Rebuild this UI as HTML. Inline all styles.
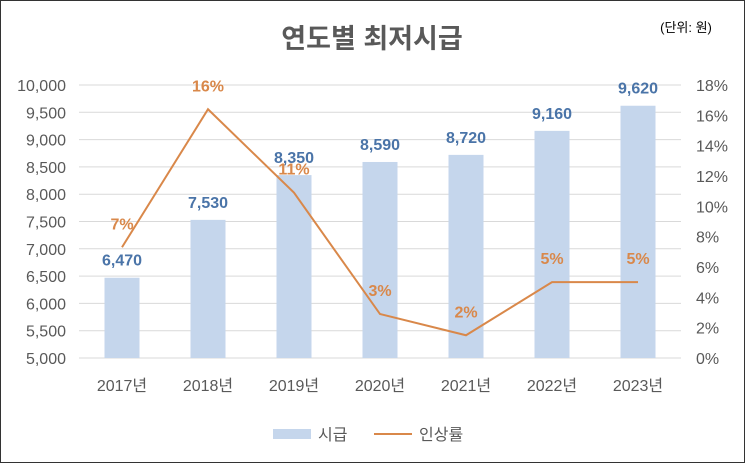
<!DOCTYPE html>
<html><head><meta charset="utf-8"><style>
body{margin:0;background:#fff;}
svg{display:block;font-family:"Liberation Sans","Noto Sans CJK KR",sans-serif;}
</style></head><body>
<svg width="745" height="463" id="chart">
<rect x="0.5" y="0.5" width="744" height="462" fill="#fff" stroke="#333"/>
<text x="372" y="48" text-anchor="middle" font-size="27" font-weight="bold" fill="#595959">연도별 최저시급</text>
<text x="686" y="32" text-anchor="middle" font-size="13" fill="#000">(단위: 원)</text>
<g id="grid"></g><g id="bars"></g><g id="line"></g><g id="labels"></g><g id="axes"></g>
<g>
<rect x="273" y="429" width="38" height="10" fill="#c5d6ec"/>
<text x="318" y="440" font-size="16" fill="#595959">시급</text>
<line x1="374" y1="434" x2="412" y2="434" stroke="#d9884a" stroke-width="2"/>
<text x="419" y="440" font-size="16" fill="#595959">인상률</text>
</g>
</svg>
<script>
const categories=["2017년","2018년","2019년","2020년","2021년","2022년","2023년"];
const wages=[6470,7530,8350,8590,8720,9160,9620];
const rates=[7.3,16.4,10.9,2.9,1.5,5.0,5.0];
const rateLabels=["7%","16%","11%","3%","2%","5%","5%"];
const leftTicks=[5000,5500,6000,6500,7000,7500,8000,8500,9000,9500,10000];
const rightTicks=[0,2,4,6,8,10,12,14,16,18];
const NS="http://www.w3.org/2000/svg";
const X0=79,X1=681,Y0=358,Y1=85;
const band=(X1-X0)/categories.length;
const xc=i=>X0+band*(i+0.5);
const yl=v=>Y0-(v-5000)/5000*(Y0-Y1);
const yr=v=>Y0-v/18*(Y0-Y1);
function mk(tag,attrs,parent,txt){const e=document.createElementNS(NS,tag);for(const k in attrs)e.setAttribute(k,attrs[k]);if(txt!==undefined)e.textContent=txt;document.getElementById(parent).appendChild(e);return e;}
leftTicks.forEach(t=>{
 const g=mk("line",{x1:X0,x2:X1,y1:yl(t),y2:yl(t),stroke:"#d9d9d9","stroke-width":1},"grid");
 
 
 const l=mk("text",{x:66,y:yl(t)+6,"text-anchor":"end","font-size":"16",fill:"#595959"},"axes",t.toLocaleString("en-US"));
 
 
});
rightTicks.forEach(t=>{
 const l=mk("text",{x:696,y:yr(t)+6,"font-size":"16",fill:"#595959"},"axes",t+"%");
 
 
});
categories.forEach((c,i)=>{
 const l=mk("text",{x:xc(i),y:391,"text-anchor":"middle","font-size":"16",fill:"#595959"},"axes",c);
 
 
});
wages.forEach((v,i)=>{
 const b=mk("rect",{x:xc(i)-17.5,y:yl(v),width:35,height:Y0-yl(v),fill:"#c5d6ec"},"bars");
 
 
 const t=mk("text",{x:xc(i),y:yl(v)-12,"text-anchor":"middle","font-size":"16","font-weight":"bold",fill:"#4a74a8"},"labels",v.toLocaleString("en-US"));
 
 
});
const pts=rates.map((r,i)=>xc(i)+","+yr(r)).join(" ");
const pl=mk("polyline",{points:pts,fill:"none",stroke:"#d9884a","stroke-width":2},"line");


rates.forEach((r,i)=>{
 const t=mk("text",{x:xc(i),y:yr(r)-18,"text-anchor":"middle","font-size":"16","font-weight":"bold",fill:"#d9884a"},"labels",rateLabels[i]);
 
 
});
</script>
</body></html>
